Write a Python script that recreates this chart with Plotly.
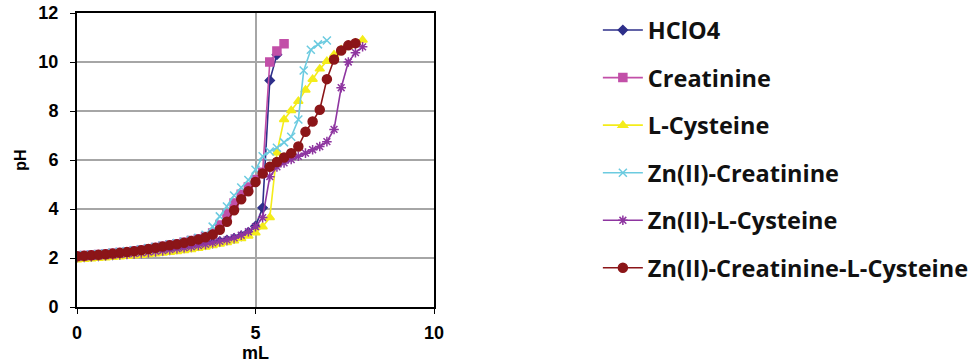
import plotly.graph_objects as go

# Titration volumes (mL) and measured pH for each system
x_hclo4 = [0, 0.2, 0.4, 0.6, 0.8, 1.0, 1.2, 1.4, 1.6, 1.8, 2.0, 2.2, 2.4, 2.6, 2.8, 3.0, 3.2, 3.4, 3.6, 3.8,
           4.0, 4.2, 4.4, 4.6, 4.8, 5.0, 5.2, 5.4, 5.6]
ph_hclo4 = [2.04, 2.05, 2.07, 2.09, 2.11, 2.13, 2.15, 2.17, 2.19, 2.21, 2.24, 2.27, 2.3, 2.33, 2.37, 2.41, 2.45, 2.5,
            2.55, 2.61, 2.67, 2.73, 2.8, 2.9, 3.05, 3.3, 4.05, 9.25, 10.3]

x_creat = [0, 0.2, 0.4, 0.6, 0.8, 1.0, 1.2, 1.4, 1.6, 1.8, 2.0, 2.2, 2.4, 2.6, 2.8, 3.0, 3.2, 3.4, 3.6, 3.8,
           4.0, 4.2, 4.4, 4.6, 4.8, 5.0, 5.2, 5.4, 5.6, 5.8]
ph_creat = [2.08, 2.1, 2.12, 2.14, 2.16, 2.19, 2.22, 2.25, 2.29, 2.33, 2.38, 2.43, 2.48, 2.53, 2.58, 2.64, 2.71, 2.79,
            2.88, 3.02, 3.35, 3.8, 4.25, 4.6, 4.9, 5.2, 5.5, 10.0, 10.45, 10.75]

x_cys = [0, 0.2, 0.4, 0.6, 0.8, 1.0, 1.2, 1.4, 1.6, 1.8, 2.0, 2.2, 2.4, 2.6, 2.8, 3.0, 3.2, 3.4, 3.6, 3.8,
         4.0, 4.2, 4.4, 4.6, 4.8, 5.0, 5.2, 5.4, 5.6, 5.8, 6.0, 6.2, 6.4, 6.6, 6.8, 7.0, 7.2, 7.4, 7.6, 7.8, 8.0]
ph_cys = [1.93, 1.95, 1.97, 1.99, 2.01, 2.03, 2.05, 2.07, 2.09, 2.11, 2.14, 2.17, 2.2, 2.23, 2.27, 2.31, 2.35, 2.4,
          2.45, 2.51, 2.57, 2.63, 2.7, 2.8, 2.9, 3.03, 3.28, 3.65, 6.3, 7.65, 8.02, 8.4, 8.86, 9.3, 9.72, 10.03,
          10.3, 10.5, 10.65, 10.78, 10.9]

x_zn_creat = [0, 0.2, 0.4, 0.6, 0.8, 1.0, 1.2, 1.4, 1.6, 1.8, 2.0, 2.2, 2.4, 2.6, 2.8, 3.0, 3.2, 3.4, 3.6, 3.8,
              4.0, 4.2, 4.4, 4.6, 4.8, 5.0, 5.2, 5.4, 5.6, 5.8, 6.0, 6.2, 6.35, 6.55, 6.75, 7.0]
ph_zn_creat = [2.1, 2.12, 2.14, 2.16, 2.19, 2.22, 2.25, 2.28, 2.32, 2.36, 2.41, 2.46, 2.51, 2.56, 2.61, 2.67, 2.74,
               2.83, 2.95, 3.28, 3.7, 4.1, 4.55, 4.88, 5.18, 5.6, 6.15, 6.35, 6.5, 6.72, 6.95, 7.65, 9.65, 10.5,
               10.72, 10.88]

x_zn_cys = [0, 0.2, 0.4, 0.6, 0.8, 1.0, 1.2, 1.4, 1.6, 1.8, 2.0, 2.2, 2.4, 2.6, 2.8, 3.0, 3.2, 3.4, 3.6, 3.8,
            4.0, 4.2, 4.4, 4.6, 4.8, 5.0, 5.2, 5.4, 5.6, 5.8, 6.0, 6.2, 6.4, 6.6, 6.8, 7.0, 7.2, 7.4, 7.6, 7.8, 8.0]
ph_zn_cys = [2.02, 2.04, 2.06, 2.08, 2.1, 2.12, 2.14, 2.16, 2.18, 2.21, 2.24, 2.27, 2.3, 2.34, 2.38, 2.42, 2.46, 2.51,
             2.56, 2.62, 2.68, 2.74, 2.82, 2.93, 3.07, 3.28, 3.65, 5.32, 5.72, 5.88, 6.02, 6.15, 6.28, 6.42, 6.55,
             6.75, 7.25, 8.95, 10.0, 10.38, 10.62]

x_zn_mix = [0, 0.2, 0.4, 0.6, 0.8, 1.0, 1.2, 1.4, 1.6, 1.8, 2.0, 2.2, 2.4, 2.6, 2.8, 3.0, 3.2, 3.4, 3.6, 3.8,
            4.0, 4.2, 4.4, 4.6, 4.8, 5.0, 5.2, 5.4, 5.6, 5.8, 6.0, 6.2, 6.4, 6.6, 6.8, 7.0, 7.2, 7.4, 7.6, 7.8]
ph_zn_mix = [2.07, 2.09, 2.11, 2.13, 2.15, 2.18, 2.21, 2.24, 2.28, 2.32, 2.37, 2.42, 2.47, 2.52, 2.56, 2.62, 2.69,
             2.76, 2.85, 2.96, 3.15, 3.48, 3.95, 4.4, 4.72, 5.1, 5.45, 5.72, 5.92, 6.1, 6.28, 6.55, 7.15, 7.57,
             8.05, 9.3, 10.1, 10.47, 10.68, 10.77]

series = [
    ("HClO4", x_hclo4, ph_hclo4, "#2E2F8A", "diamond", 7),
    ("Creatinine", x_creat, ph_creat, "#C24FA8", "square", 8),
    ("L-Cysteine", x_cys, ph_cys, "#F4EC1A", "triangle-up", 8),
    ("Zn(II)-Creatinine", x_zn_creat, ph_zn_creat, "#6CCBE0", "x-thin-open", 8),
    ("Zn(II)-L-Cysteine", x_zn_cys, ph_zn_cys, "#8E35A0", "asterisk-open", 8),
    ("Zn(II)-Creatinine-L-Cysteine", x_zn_mix, ph_zn_mix, "#8B1518", "circle", 9),
]

fig = go.Figure()
for i, (name, xs, ys, color, symbol, size) in enumerate(series):
    fig.add_trace(go.Scatter(
        x=xs, y=ys, name=name, mode="lines+markers",
        legendgroup=f"g{i}",
        line=dict(color=color, width=1.6),
        marker=dict(symbol=symbol, size=size, color=color,
                    line=dict(color=color, width=1.5)),
    ))

sans = "Arial, Liberation Sans, sans-serif"
tick_font = dict(family=sans, size=18, color="#000000", weight="bold")

fig.update_layout(
    width=973, height=364,
    margin=dict(l=77, r=539, t=13, b=57, autoexpand=False),
    paper_bgcolor="white", plot_bgcolor="white",
    showlegend=True,
    legend=dict(
        x=1.459, xanchor="left", y=1.016, yanchor="top",
        font=dict(family="Open Sans", size=23.5, color="#111111", weight="bold"),
        tracegroupgap=14, itemwidth=40, bgcolor="rgba(0,0,0,0)",
        maxheight=364,
    ),
    xaxis=dict(
        range=[0, 10], dtick=5, tick0=0, automargin=False,
        showgrid=True, gridcolor="#A6A6A6", gridwidth=1.5,
        showline=True, linecolor="#000000", linewidth=2, mirror=True,
        ticks="outside", ticklen=5, tickcolor="#000000", ticklabelstandoff=3,
        tickfont=tick_font,
        title=dict(text="mL", font=dict(family=sans, size=18, color="#000000", weight="bold"),
                   standoff=4),
        zeroline=False,
    ),
    yaxis=dict(
        range=[0, 12], dtick=2, tick0=0, automargin=False,
        showgrid=True, gridcolor="#A6A6A6", gridwidth=1.5,
        showline=True, linecolor="#000000", linewidth=2, mirror=True,
        ticks="outside", ticklen=5, tickcolor="#000000", ticklabelstandoff=8,
        tickfont=tick_font,
        title=dict(text="pH", font=dict(family=sans, size=16, color="#000000", weight="bold"),
                   standoff=8),
        zeroline=False,
    ),
)

fig.write_html("out.html")
